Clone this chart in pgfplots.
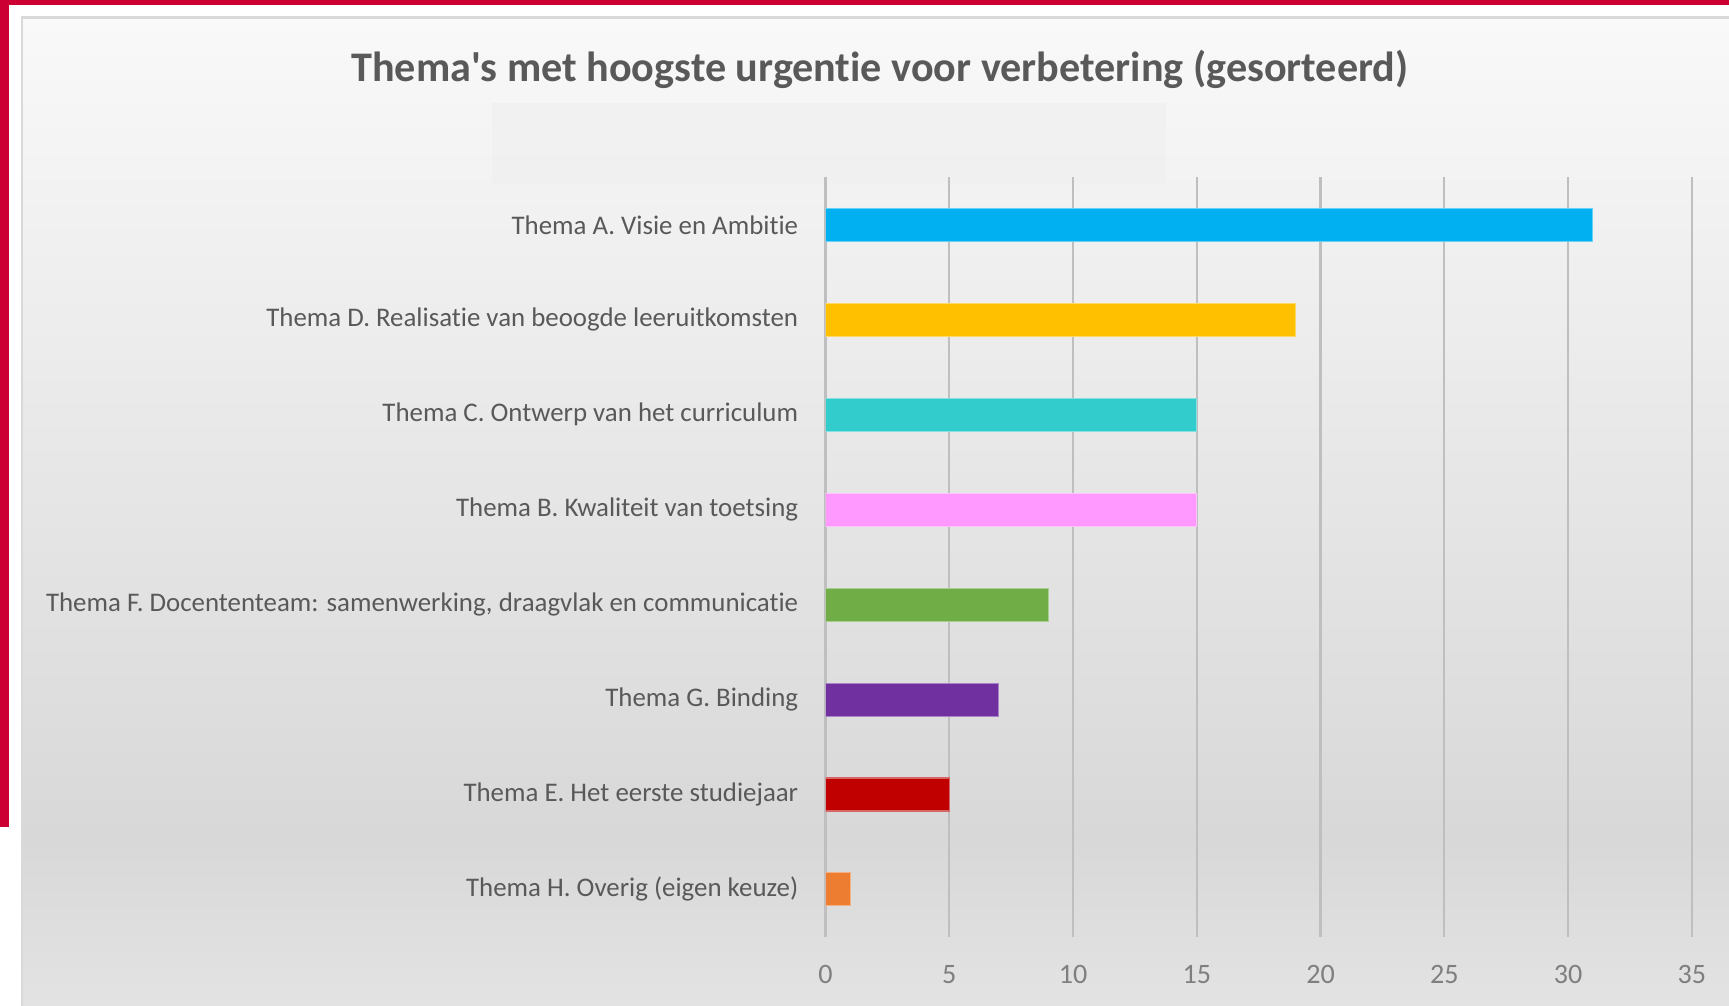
\documentclass[border=0pt]{standalone}
\usepackage{fontspec}
\setmainfont{Carlito}[Ligatures={TeX,NoCommon}]
\newfontfamily\titlefont{Carlito}[Ligatures={ResetAll,NoCommon}]
\usepackage{pgfplots}
\pgfplotsset{compat=1.18}
\definecolor{redband}{HTML}{CC0033}
\definecolor{bgtop}{HTML}{F9F9F9}
\definecolor{bgmid}{HTML}{D8D8D8}
\definecolor{bgbot}{HTML}{E3E3E3}
\definecolor{bordergray}{HTML}{D9D9D9}
\definecolor{boxgray}{HTML}{EFEFEF}
\definecolor{txtgray}{HTML}{595959}
\definecolor{tickgray}{HTML}{7F7F7F}
\definecolor{gridgray}{HTML}{BFBFBF}
\definecolor{cA}{HTML}{00B0F0}
\definecolor{cD}{HTML}{FFC000}
\definecolor{cC}{HTML}{33CCCC}
\definecolor{cB}{HTML}{FF99FF}
\definecolor{cF}{HTML}{70AD47}
\definecolor{cG}{HTML}{7030A0}
\definecolor{cE}{HTML}{C00000}
\definecolor{cH}{HTML}{ED7D31}
\begin{document}
\begin{tikzpicture}
\begin{scope}[x=0.011027cm,y=-0.011027cm]
\useasboundingbox (0,0) rectangle (1568,912);
\fill[white] (0,0) rectangle (1568,912);
\shade[top color=bgtop, bottom color=bgmid] (20,16) rectangle (1568,760);
\shade[top color=bgmid, bottom color=bgbot] (20,760) rectangle (1568,912);
\draw[bordergray, line width=0.7pt] (1568,16) -- (20,16) -- (20,912);
\fill[boxgray, opacity=0.6] (446,93) rectangle (1057,168);
\fill[redband] (0,0) rectangle (1568,4.5);
\fill[redband] (0,0) rectangle (8,750);
\node[font=\titlefont\fontsize{12}{14}\selectfont\bfseries, text=txtgray] at (798,63) {Thema's met hoogste urgentie voor verbetering (gesorteerd)};
\end{scope}
\begin{axis}[
  at={(8.259cm,-9.373cm)}, anchor=south west,
  scale only axis, width=8.667cm, height=7.598cm,
  xmin=0, xmax=35, ymin=-0.5, ymax=7.5,
  y dir=reverse,
  xtick={0,5,...,35},
  ytick={0,...,7},
  yticklabels={Thema A. Visie en Ambitie, Thema D. Realisatie van beoogde leeruitkomsten, Thema C. Ontwerp van het curriculum, Thema B. Kwaliteit van toetsing, {Thema F. Docententeam: samenwerking, draagvlak en communicatie}, Thema G. Binding, Thema E. Het eerste studiejaar, Thema H. Overig (eigen keuze)},
  axis line style={draw=none},
  major tick length=0pt,
  xmajorgrids,
  major grid style={gridgray, line width=0.6pt},
  /pgf/number format/assume math mode=true,
  yticklabel style={font=\fontsize{7.65}{9.2}\selectfont, text=txtgray, anchor=east, xshift=-0.15cm},
  xticklabel style={font=\fontsize{8}{9.6}\selectfont, text=tickgray, yshift=-0.16cm},
]
\addplot[xbar, bar width=0.33cm, bar shift=0pt, fill=cA, draw=cA!60!white, line width=0.3pt] coordinates {(31,0)};
\addplot[xbar, bar width=0.33cm, bar shift=0pt, fill=cD, draw=cD!60!white, line width=0.3pt] coordinates {(19,1)};
\addplot[xbar, bar width=0.33cm, bar shift=0pt, fill=cC, draw=cC!60!white, line width=0.3pt] coordinates {(15,2)};
\addplot[xbar, bar width=0.33cm, bar shift=0pt, fill=cB, draw=cB!60!white, line width=0.3pt] coordinates {(15,3)};
\addplot[xbar, bar width=0.33cm, bar shift=0pt, fill=cF, draw=cF!60!white, line width=0.3pt] coordinates {(9,4)};
\addplot[xbar, bar width=0.33cm, bar shift=0pt, fill=cG, draw=cG!60!white, line width=0.3pt] coordinates {(7,5)};
\addplot[xbar, bar width=0.33cm, bar shift=0pt, fill=cE, draw=cE!60!white, line width=0.3pt] coordinates {(5,6)};
\addplot[xbar, bar width=0.33cm, bar shift=0pt, fill=cH, draw=cH!60!white, line width=0.3pt] coordinates {(1,7)};
\end{axis}
\end{tikzpicture}
\end{document}
